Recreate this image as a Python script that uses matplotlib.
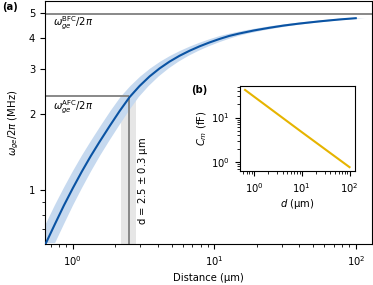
import numpy as np
import matplotlib
matplotlib.use("Agg")
import matplotlib.pyplot as plt
from matplotlib.ticker import NullFormatter, FixedLocator, FixedFormatter

# courbe principale
distance = [0.645, 0.747, 0.864, 1.0, 1.157, 1.339, 1.549, 1.822, 2.143, 2.52,
            2.964, 3.486, 4.10, 4.822, 5.669, 6.668, 7.842, 9.222, 10.84, 12.76,
            15.0, 19.13, 24.4, 31.12, 39.68, 54.89, 75.93, 100.0]
omega = [0.617, 0.734, 0.869, 1.018, 1.183, 1.363, 1.555, 1.791, 2.053, 2.33,
         2.577, 2.81, 3.022, 3.215, 3.389, 3.547, 3.692, 3.825, 3.948, 4.062,
         4.151, 4.270, 4.372, 4.465, 4.543, 4.634, 4.715, 4.772]

omega_bfc = 4.95
omega_afc = 2.35
d_mesure = 2.5
d_erreur = 0.3

# encart (b)
d_encart = [0.65, 1.0, 10.0, 100.0]
cm_encart = [42.0, 29.7, 4.7, 0.76]

plt.rcParams["font.size"] = 7.2

fig = plt.figure(figsize=(3.73, 2.85), dpi=100)
ax = fig.add_axes([0.1206, 0.1439, 0.8764, 0.8526])

x = np.array(distance)
y = np.array(omega)
k = 1.16
ax.fill(np.concatenate([x / k, (x * k)[::-1]]), np.concatenate([y, y[::-1]]),
        color="#c6d9ef", lw=0, zorder=1)
ax.plot(x, y, color="#0a53a3", lw=1.5, zorder=3)

ax.set_xscale("log")
ax.set_yscale("log")
ax.set_xlim(0.635, 130)
ax.set_ylim(0.612, 5.58)
ybas = 0.612

ax.axhline(omega_bfc, color="#888888", lw=1.4, zorder=2)
ax.hlines(omega_afc, 0.635, d_mesure, color="#888888", lw=1.4, zorder=2)
ax.fill_between([d_mesure - d_erreur, d_mesure + d_erreur], ybas, omega_afc,
                color="#e6e6e6", lw=0, zorder=0)
ax.vlines(d_mesure, ybas, omega_afc, color="#888888", lw=1.4, zorder=2)

ax.text(0.72, 4.55, r"$\omega_{ge}^{\mathrm{BFC}}/2\pi$", fontsize=7.2, va="center")
ax.text(0.72, 2.13, r"$\omega_{ge}^{\mathrm{AFC}}/2\pi$", fontsize=7.2, va="center")
ax.text(3.12, 1.085, r"d = 2.5 $\pm$ 0.3 µm", rotation=90, fontsize=7.2,
        va="center", ha="center")

ax.yaxis.set_major_locator(FixedLocator([1, 2, 3, 4, 5]))
ax.yaxis.set_major_formatter(FixedFormatter(["1", "2", "3", "4", "5"]))
ax.yaxis.set_minor_locator(FixedLocator([0.7, 0.8, 0.9]))
ax.yaxis.set_minor_formatter(NullFormatter())

ax.set_xlabel("Distance (µm)", labelpad=4)
ax.set_ylabel(r"$\omega_{ge}/2\pi$ (MHz)", labelpad=6)

fig.text(0.005, 0.975, "(a)", fontweight="bold", fontsize=7.2, va="center")

# encart (b)
axb = fig.add_axes([0.643, 0.400, 0.308, 0.298])
axb.plot(d_encart, cm_encart, color="#e6b400", lw=1.5)
axb.set_xscale("log")
axb.set_yscale("log")
axb.set_xlabel(r"$d$ (µm)", labelpad=2)
axb.set_ylabel(r"$C_m$ (fF)", labelpad=2)
axb.tick_params(labelsize=7.2)
fig.text(0.512, 0.685, "(b)", fontweight="bold", fontsize=7.2, va="center")

fig.savefig("out.png", dpi=100)
